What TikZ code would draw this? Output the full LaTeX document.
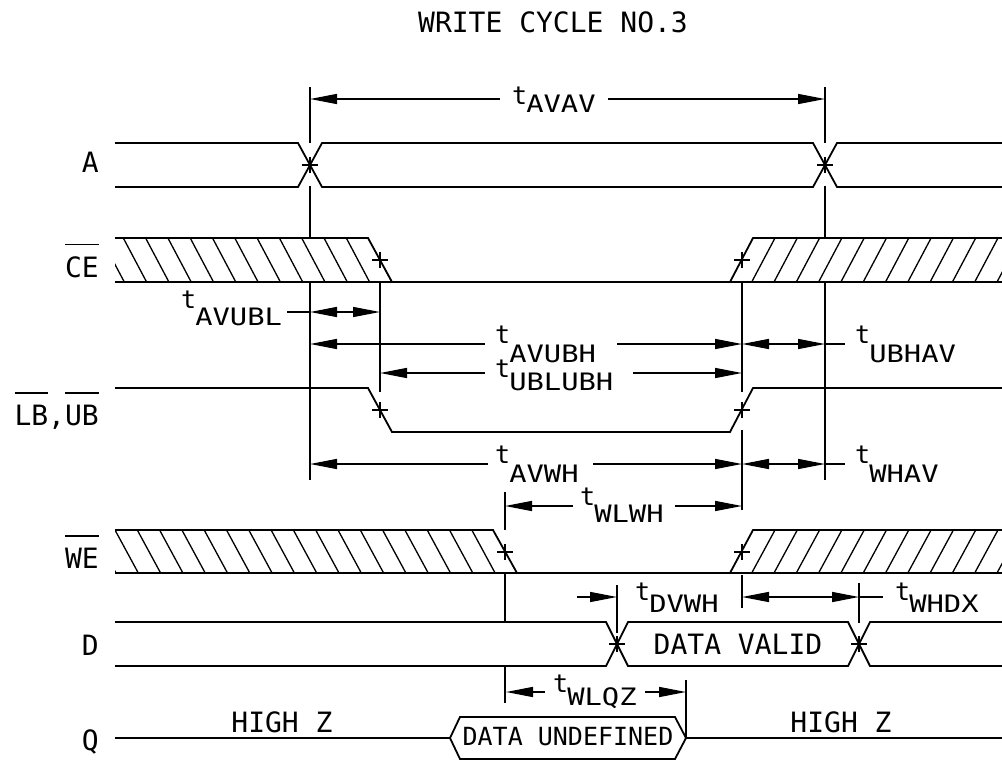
\documentclass[tikz,border=0pt]{standalone}
\usepackage{fontspec}
\usetikzlibrary{arrows.meta}
\newfontfamily\mono{DejaVu Sans Mono}
\newfontfamily\monow[FakeStretch=1.2]{DejaVu Sans Mono}
\newcommand\tlab[2]{{\mono\fontsize{25}{25}\selectfont t}\kern-1pt\raisebox{-#1pt}{\monow\fontsize{24}{24}\selectfont #2}}
\newcommand\ovl[1]{\vbox{\hrule height 1.3pt\kern 11pt\hbox{#1}}}
\tikzset{
  sig/.style={line width=1.8pt},
  hat/.style={line width=1.3pt},
  dim/.style={line width=1.5pt},
  ext/.style={line width=1.5pt},
  lab/.style={font=\mono\fontsize{28}{28}\selectfont, inner sep=0pt},
  tl/.style={inner sep=0pt, anchor=base west},
  pmark/.pic={\draw[line width=1.4pt] (-8,0)--(8,0) (0,-8)--(0,8);},
  >={Triangle[length=27pt,width=10pt]}
}
\begin{document}
\begin{tikzpicture}[x=1pt,y=-1pt]
\useasboundingbox (0,0) rectangle (1002,760);
% title
\node[lab,anchor=base] (title) at (553,33) {WRITE CYCLE NO.3};
% row labels
\node[lab,anchor=base east] (labA) at (99,172) {A};
\node[lab,anchor=base east] (labCE) at (99,277) {\ovl{CE}};
\node[lab,anchor=base east] (labLB) at (99,425) {\ovl{LB},\ovl{UB}};
\node[lab,anchor=base east] (labWE) at (99,568) {\ovl{WE}};
\node[lab,anchor=base east] (labD) at (99,655) {D};
\node[lab,anchor=base east] (labQ) at (99,750) {Q};
% hatching
\begin{scope}
\clip (115,238) -- (368,238) -- (392,282) -- (115,282) -- cycle;
\foreach \k in {-1,...,13} \draw[hat] ({101+22.3*\k},238) -- ({124.3+22.3*\k},282);
\end{scope}
\begin{scope}
\clip (730,282) -- (753,238) -- (1002,238) -- (1002,282) -- cycle;
\foreach \k in {-1,...,12} \draw[hat] ({751.7+22.3*\k},282) -- ({775+22.3*\k},238);
\end{scope}
\begin{scope}
\clip (115,530) -- (493,530) -- (517,573) -- (115,573) -- cycle;
\foreach \k in {-1,...,18} \draw[hat] ({115+22.3*\k},530) -- ({138.3+22.3*\k},573);
\end{scope}
\begin{scope}
\clip (730,573) -- (753,530) -- (1002,530) -- (1002,573) -- cycle;
\foreach \k in {-1,...,12} \draw[hat] ({751.7+22.3*\k},573) -- ({775+22.3*\k},530);
\end{scope}
% signals
\draw[sig] (115,143) -- (298,143) -- (322,187) -- (813,187) -- (837,143) -- (1002,143);
\draw[sig] (115,187) -- (298,187) -- (322,143) -- (813,143) -- (837,187) -- (1002,187);
\draw[sig] (115,238) -- (368,238) -- (392,282);
\draw[sig] (115,282) -- (1002,282);
\draw[sig] (730,282) -- (753,238) -- (1002,238);
\draw[sig] (115,388) -- (368,388) -- (392,432) -- (730,432) -- (753,388) -- (1002,388);
\draw[sig] (115,530) -- (493,530) -- (517,573);
\draw[sig] (115,573) -- (1002,573);
\draw[sig] (730,573) -- (753,530) -- (1002,530);
\draw[sig] (115,622) -- (606,622) -- (628,666) -- (848,666) -- (870,622) -- (1002,622);
\draw[sig] (115,666) -- (606,666) -- (628,622) -- (848,622) -- (870,666) -- (1002,666);
\draw[sig] (115,738) -- (450,738) -- (460,717) -- (675,717) -- (686,738) -- (1002,738);
\draw[sig] (450,738) -- (460,759) -- (675,759) -- (686,738);
% signal texts
\node[lab,anchor=base] (dv) at (738,654) {DATA VALID};
\node[lab,anchor=base,font=\mono\fontsize{25}{25}\selectfont] (du) at (568,745) {DATA UNDEFINED};
\node[lab,anchor=base] (hz1) at (282,732) {HIGH Z};
\node[lab,anchor=base] (hz2) at (841,732) {HIGH Z};
% crossing / edge marks
\foreach \p in {(310,165),(825,165),(380,260),(742,260),(380,410),(742,410),(505,552),(742,552),(617,644),(859,644)}
  \pic at \p {pmark};
% extension lines
\draw[ext] (310,87) -- (310,143) (310,186) -- (310,238) (310,282) -- (310,480);
\draw[ext] (825,87) -- (825,143) (825,186) -- (825,238) (825,282) -- (825,480);
\draw[ext] (380,282) -- (380,392);
\draw[ext] (742,282) -- (742,392) (742,430) -- (742,510) (742,575) -- (742,608);
\draw[ext] (505,492) -- (505,530) (505,574) -- (505,622) (505,667) -- (505,703);
\draw[ext] (617,585) -- (617,633);
\draw[ext] (859,583) -- (859,623);
\draw[ext] (686,680) -- (686,738);
% dimension lines
\draw[dim,<-] (310,99) -- (500,99);
\node[tl] (tAVAV) at (512,104) {\tlab{9}{AVAV}};
\draw[dim,->] (608,99) -- (825,99);

\node[tl] (tAVUBL) at (181,308) {\tlab{17}{AVUBL}};
\draw[dim] (287,312) -- (310,312);
\draw[dim,<->] (310,312) -- (380,312);

\draw[dim,<-] (310,344) -- (485,344);
\node[tl] (tAVUBH) at (495,343) {\tlab{19}{AVUBH}};
\draw[dim,->] (617,344) -- (742,344);
\draw[dim,<->] (742,344) -- (825,344);
\draw[dim] (825,344) -- (845,344);
\node[tl] (tUBHAV) at (855,343) {\tlab{19}{UBHAV}};

\draw[dim,<-] (380,373) -- (485,373);
\node[tl] (tUBLUBH) at (495,377) {\tlab{13}{UBLUBH}};
\draw[dim,->] (633,373) -- (742,373);

\draw[dim,<-] (310,464) -- (488,464);
\node[tl] (tAVWH) at (495,463) {\tlab{19}{AVWH}};
\draw[dim,->] (593,464) -- (742,464);
\draw[dim,<->] (742,464) -- (825,464);
\draw[dim] (825,464) -- (845,464);
\node[tl] (tWHAV) at (855,463) {\tlab{19}{WHAV}};

\draw[dim,<-] (505,506) -- (573,506);
\node[tl] (tWLWH) at (580,505) {\tlab{17}{WLWH}};
\draw[dim,->] (675,506) -- (742,506);

\draw[dim,->] (577,597) -- (617,597);
\node[tl] (tDVWH) at (635,600) {\tlab{12}{DVWH}};
\draw[dim,<->] (742,597) -- (859,597);
\draw[dim] (859,597) -- (883,597);
\node[tl] (tWHDX) at (895,600) {\tlab{12}{WHDX}};

\draw[dim,<-] (506,692) -- (545,692);
\node[tl] (tWLQZ) at (553,692) {\tlab{13}{WLQZ}};
\draw[dim,->] (645,692) -- (686,692);
\end{tikzpicture}
\end{document}
